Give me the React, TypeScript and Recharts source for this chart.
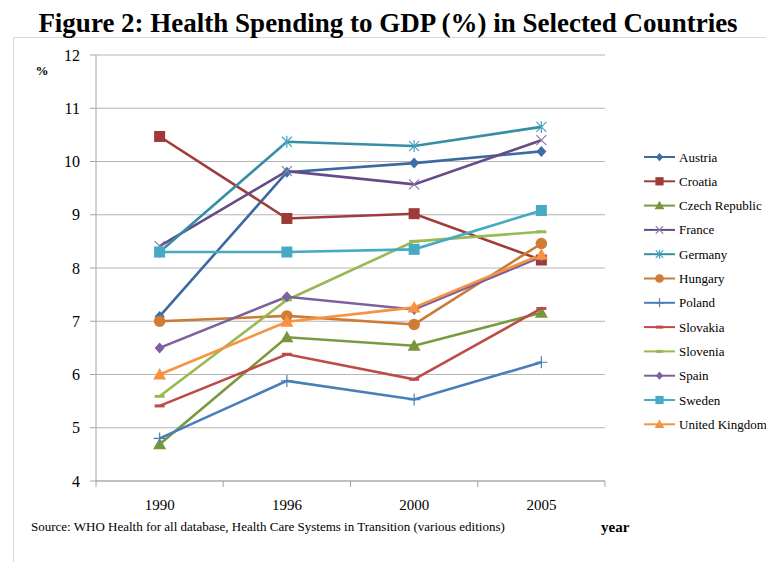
import React from "react";
import { LineChart, Line, XAxis, YAxis, CartesianGrid } from "recharts";

const years = ["1990", "1996", "2000", "2005"];
const yTicks = [4, 5, 6, 7, 8, 9, 10, 11, 12];

const austria = [7.09, 9.8, 9.97, 10.19];
const croatia = [10.47, 8.93, 9.02, 8.15];
const czech = [4.69, 6.7, 6.54, 7.16];
const france = [8.41, 9.82, 9.57, 10.4];
const germany = [8.3, 10.37, 10.29, 10.65];
const hungary = [7.0, 7.1, 6.94, 8.46];
const poland = [4.8, 5.88, 5.53, 6.23];
const slovakia = [5.41, 6.38, 5.91, 7.24];
const slovenia = [5.59, 7.4, 8.5, 8.68];
const spain = [6.5, 7.46, 7.22, 8.21];
const sweden = [8.3, 8.3, 8.35, 9.08];
const uk = [6.0, 6.99, 7.26, 8.25];

type Shape = "diamond" | "square" | "triangle" | "x" | "star" | "circle" | "plus" | "dash" | "none";

const series: { key: string; name: string; values: number[]; color: string; marker: string; shape: Shape }[] = [
  { key: "austria", name: "Austria", values: austria, color: "#3B69A0", marker: "#3E6DA8", shape: "diamond" },
  { key: "croatia", name: "Croatia", values: croatia, color: "#9D3E3B", marker: "#9E3B38", shape: "square" },
  { key: "czech", name: "Czech Republic", values: czech, color: "#7A9A3F", marker: "#77963E", shape: "triangle" },
  { key: "france", name: "France", values: france, color: "#664C87", marker: "#8D7BAA", shape: "x" },
  { key: "germany", name: "Germany", values: germany, color: "#358EA5", marker: "#4BA3BE", shape: "star" },
  { key: "hungary", name: "Hungary", values: hungary, color: "#CC7A35", marker: "#D07C34", shape: "circle" },
  { key: "poland", name: "Poland", values: poland, color: "#4A7EBB", marker: "#4A7EBB", shape: "plus" },
  { key: "slovakia", name: "Slovakia", values: slovakia, color: "#BE4B48", marker: "#BE4B48", shape: "dash" },
  { key: "slovenia", name: "Slovenia", values: slovenia, color: "#98B954", marker: "#98B954", shape: "dash" },
  { key: "spain", name: "Spain", values: spain, color: "#7D60A0", marker: "#7D60A0", shape: "diamond" },
  { key: "sweden", name: "Sweden", values: sweden, color: "#46AAC5", marker: "#46AAC5", shape: "square" },
  { key: "uk", name: "United Kingdom", values: uk, color: "#F69240", marker: "#F69240", shape: "triangle" },
];

const data = years.map((year, i) => {
  const row: Record<string, string | number> = { year };
  series.forEach((s) => {
    row[s.key] = s.values[i];
  });
  return row;
});

const W = 766;
const H = 562;
const PLOT_LEFT = 96;
const PLOT_RIGHT = 605;
const PLOT_TOP = 55;
const PLOT_BOTTOM = 481;
const BAND_HALF = (PLOT_RIGHT - PLOT_LEFT) / years.length / 2;
const SERIF = "Liberation Serif";
const AXIS = "#A6A6A6";

function marker(shape: Shape, cx: number, cy: number, color: string, scale = 1) {
  const s = scale;
  switch (shape) {
    case "diamond":
      return <path d={`M${cx},${cy - 5.5 * s}L${cx + 5 * s},${cy}L${cx},${cy + 5.5 * s}L${cx - 5 * s},${cy}Z`} fill={color} />;
    case "square":
      return <rect x={cx - 5.5 * s} y={cy - 5.5 * s} width={11 * s} height={11 * s} fill={color} />;
    case "triangle":
      return <path d={`M${cx},${cy - 6.5 * s}L${cx + 6.5 * s},${cy + 5 * s}L${cx - 6.5 * s},${cy + 5 * s}Z`} fill={color} />;
    case "circle":
      return <circle cx={cx} cy={cy} r={5.8 * s} fill={color} />;
    case "x":
      return (
        <path
          d={`M${cx - 5 * s},${cy - 5 * s}L${cx + 5 * s},${cy + 5 * s}M${cx + 5 * s},${cy - 5 * s}L${cx - 5 * s},${cy + 5 * s}`}
          stroke={color}
          strokeWidth={1.2}
          fill="none"
        />
      );
    case "star":
      return (
        <path
          d={`M${cx - 5 * s},${cy - 5 * s}L${cx + 5 * s},${cy + 5 * s}M${cx + 5 * s},${cy - 5 * s}L${cx - 5 * s},${cy + 5 * s}M${cx},${cy - 6 * s}L${cx},${cy + 6 * s}`}
          stroke={color}
          strokeWidth={1.2}
          fill="none"
        />
      );
    case "plus":
      return (
        <path
          d={`M${cx - 6 * s},${cy}L${cx + 6 * s},${cy}M${cx},${cy - 6 * s}L${cx},${cy + 6 * s}`}
          stroke={color}
          strokeWidth={1.2}
          fill="none"
        />
      );
    case "dash":
      return <path d={`M${cx - 5 * s},${cy}L${cx + 5 * s},${cy}`} stroke={color} strokeWidth={3} fill="none" />;
    default:
      return null;
  }
}

function makeDot(shape: Shape, color: string) {
  return (props: any) => {
    const { cx, cy, index } = props;
    if (cx == null || cy == null) return <g key={index} />;
    return <g key={index}>{marker(shape, cx, cy, color)}</g>;
  };
}

function YearTick(props: any) {
  const { x, y, payload, index } = props;
  const last = index === years.length - 1;
  return (
    <g>
      <line x1={x - BAND_HALF} x2={x - BAND_HALF} y1={y} y2={y + 6} stroke={AXIS} />
      {last && <line x1={x + BAND_HALF} x2={x + BAND_HALF} y1={y} y2={y + 6} stroke={AXIS} />}
      <text x={x} y={y + 29} textAnchor="middle" fontFamily={SERIF} fontSize={15} fill="#000">
        {payload.value}
      </text>
    </g>
  );
}

function ValueTick(props: any) {
  const { x, y, payload } = props;
  return (
    <text x={x} y={y + 5.5} textAnchor="end" fontFamily={SERIF} fontSize={16} fill="#000">
      {payload.value}
    </text>
  );
}

export default function App() {
  return (
    <div style={{ position: "absolute", left: 0, top: 0, width: W, height: H, background: "#fff" }}>
      <svg width={W} height={H} style={{ position: "absolute", left: 0, top: 0 }}>
        <line x1={13} x2={W} y1={37.5} y2={37.5} stroke="#D9D9D9" />
        <line x1={13.5} x2={13.5} y1={37} y2={H} stroke="#D9D9D9" />
        <text x={388} y={32} textAnchor="middle" fontFamily={SERIF} fontWeight="bold" fontSize={27} fill="#000">
          Figure 2: Health Spending to GDP (%) in Selected Countries
        </text>
        <text x={42} y={75} textAnchor="middle" fontFamily={SERIF} fontWeight="bold" fontSize={13} fill="#000">
          %
        </text>
        <text x={31} y={531} fontFamily={SERIF} fontSize={13} fill="#000">
          Source: WHO  Health for all database, Health  Care Systems in Transition (various editions)
        </text>
        <text x={601} y={532} fontFamily={SERIF} fontWeight="bold" fontSize={15} fill="#000">
          year
        </text>
        {series.map((s, i) => {
          const cy = 157 + i * 24.3;
          return (
            <g key={s.key}>
              <line x1={644} x2={675} y1={cy} y2={cy} stroke={s.color} strokeWidth={2} />
              {marker(s.shape, 659.5, cy, s.marker, 0.75)}
              <text x={679} y={cy + 4.5} fontFamily={SERIF} fontSize={13} fill="#000">
                {s.name}
              </text>
            </g>
          );
        })}
      </svg>
      <div style={{ position: "absolute", left: 0, top: 0 }}>
        <LineChart
          width={W}
          height={H}
          data={data}
          margin={{ top: PLOT_TOP, right: W - PLOT_RIGHT, left: 0, bottom: H - PLOT_BOTTOM - 30 }}
        >
          <CartesianGrid vertical={false} stroke="#B5B5B5" />
          <XAxis
            dataKey="year"
            height={30}
            padding={{ left: BAND_HALF, right: BAND_HALF }}
            tickLine={false}
            tickSize={0}
            tickMargin={0}
            axisLine={{ stroke: AXIS }}
            tick={<YearTick />}
            interval={0}
          />
          <YAxis
            width={PLOT_LEFT}
            domain={[4, 12]}
            ticks={yTicks}
            interval={0}
            tickSize={6}
            tickMargin={10}
            tickLine={{ stroke: AXIS }}
            axisLine={{ stroke: AXIS }}
            tick={<ValueTick />}
          />
          {series.map((s) => (
            <Line
              key={s.key}
              dataKey={s.key}
              name={s.name}
              stroke={s.color}
              strokeWidth={2.6}
              dot={makeDot(s.shape, s.marker)}
              activeDot={false}
              isAnimationActive={false}
            />
          ))}
        </LineChart>
      </div>
    </div>
  );
}
